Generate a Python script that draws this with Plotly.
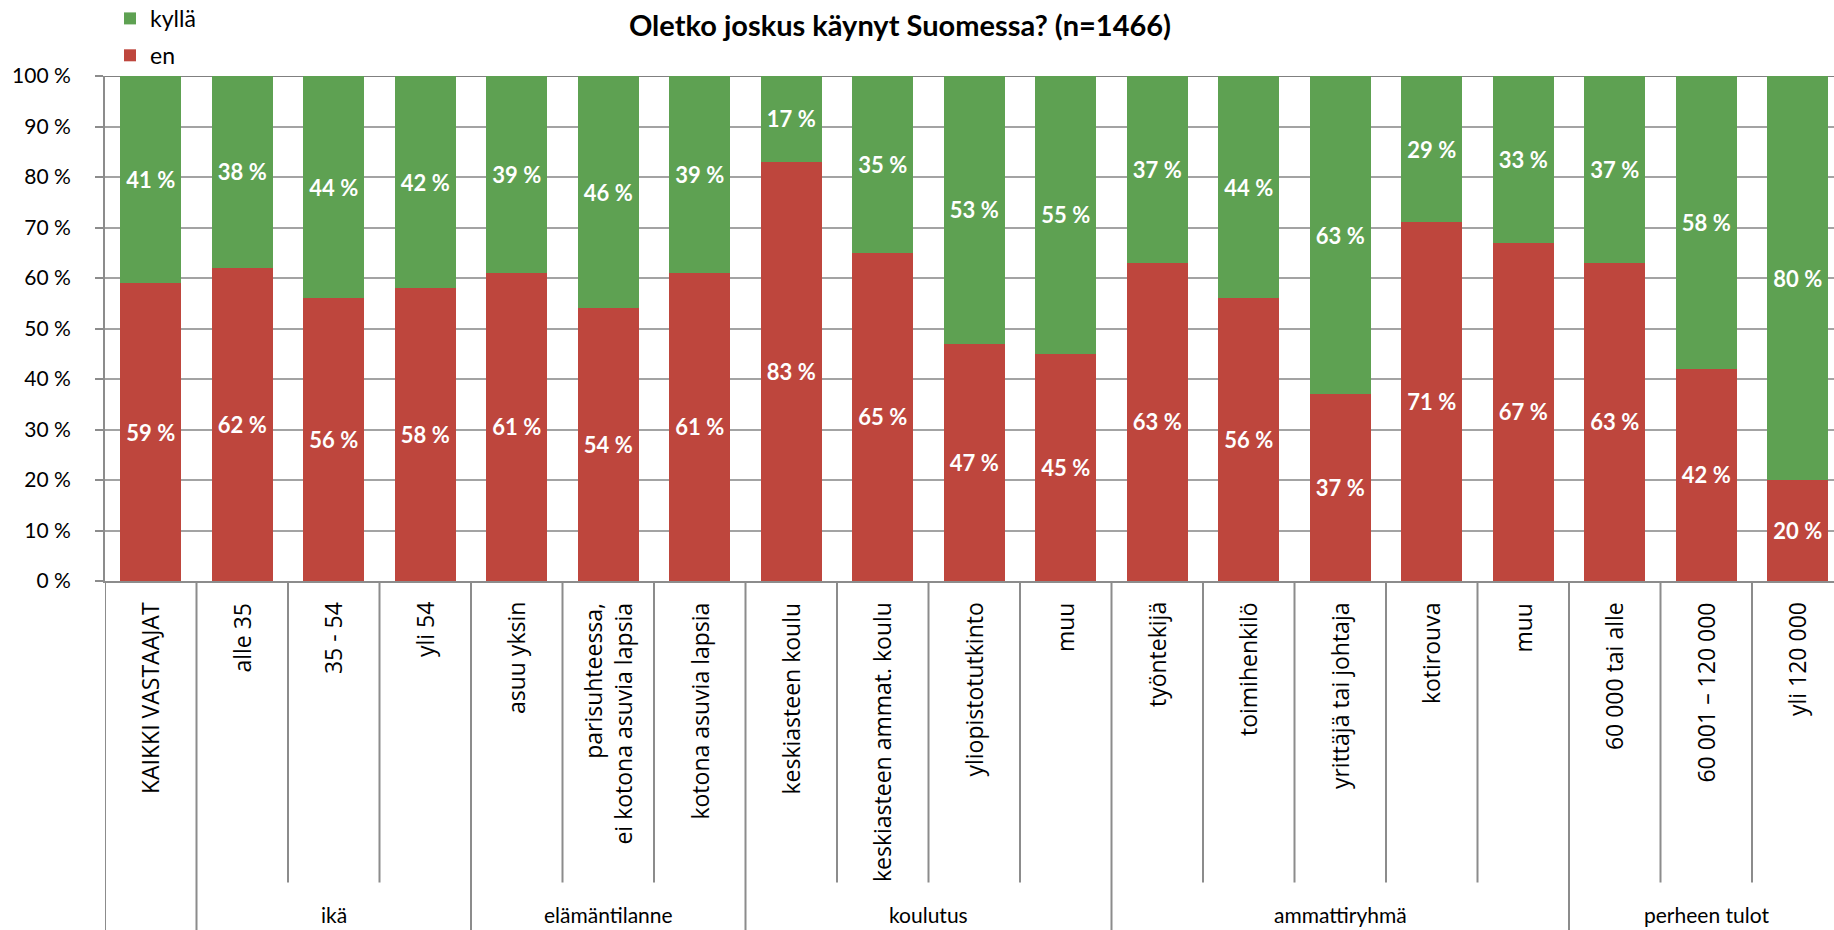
import plotly.graph_objects as go

# ---------------- data ----------------
categories = [
    "KAIKKI VASTAAJAT", "alle 35", "35 - 54", "yli 54",
    "asuu yksin", "parisuhteessa,<br>ei kotona asuvia lapsia", "kotona asuvia lapsia",
    "keskiasteen koulu", "keskiasteen ammat. koulu", "yliopistotutkinto", "muu",
    "työntekijä", "toimihenkilö", "yrittäjä tai johtaja", "kotirouva", "muu",
    "60 000 tai alle", "60 001 – 120 000", "yli 120 000",
]
groups = ["", "ikä", "elämäntilanne", "koulutus", "ammattiryhmä", "perheen tulot"]
group_sizes = [1, 3, 3, 4, 5, 3]
en = [59, 62, 56, 58, 61, 54, 61, 83, 65, 47, 45, 63, 56, 37, 71, 67, 63, 42, 20]
kylla = [41, 38, 44, 42, 39, 46, 39, 17, 35, 53, 55, 37, 44, 63, 29, 33, 37, 58, 80]
y_ticks = list(range(0, 101, 10))
y_tick_text = [f"{v} %" for v in y_ticks]
title_text = "Oletko joskus käynyt Suomessa? (n=1466)"

# ---------------- layout geometry (pixels) ----------------
W, H = 1834, 930
L, R, T, B = 105, 1834, 76, 580.7
CAT_W = 91.5
x_lo = -0.5
x_hi = x_lo + (R - L) / CAT_W


def py(ypix):
    return (B - ypix) / (B - T)


def px(xpix):
    return (xpix - L) / (R - L)


RED = "#BE463D"
GREEN = "#5EA152"
GRID = "#A3A3A3"
CALIBRI = "Lato"
ROT = "Open Sans"

idx = list(range(len(categories)))

fig = go.Figure()
for name, vals, col, grp, rank in (("en", en, RED, "en", 2), ("kyllä", kylla, GREEN, "kylla", 1)):
    fig.add_trace(go.Bar(
        x=idx, y=vals, name=name, marker=dict(color=col, line=dict(width=0)), width=0.67,
        text=[f"{v} %" for v in vals], texttemplate="%{text}",
        textposition="inside", insidetextanchor="middle", textangle=0,
        textfont=dict(family=CALIBRI, size=22, color="white", weight="bold"),
        hoverinfo="skip", legendgroup=grp, legendrank=rank,
    ))

shapes = []
bounds = [0]
for s in group_sizes:
    bounds.append(bounds[-1] + s)
for k in range(len(categories) + 1):
    full = k in bounds
    shapes.append(dict(
        type="line", xref="x", yref="paper", x0=k - 0.5, x1=k - 0.5,
        y0=0, y1=py(930 if full else 882),
        line=dict(color="#8C8C8C", width=2), layer="above",
    ))
shapes.append(dict(type="line", xref="paper", yref="y", x0=0, x1=1, y0=100, y1=100,
                   line=dict(color="#808080", width=2), layer="below"))

annotations = []
for i, c in enumerate(categories):
    annotations.append(dict(
        x=i, xref="x", y=py(600), yref="paper", text=c, showarrow=False,
        textangle=-90, xanchor="center", yanchor="top", align="right",
        font=dict(family=ROT, size=23, color="black"),
    ))
start = 0
for g, s in zip(groups, group_sizes):
    if g:
        annotations.append(dict(
            x=start + (s - 1) / 2, xref="x", y=py(914), yref="paper", text=g,
            showarrow=False, xanchor="center", yanchor="middle",
            font=dict(family=CALIBRI, size=21, color="black"),
        ))
    start += s

fig.update_layout(
    width=W, height=H,
    margin=dict(l=L, r=W - R, t=T, b=H - B, pad=0, autoexpand=False),
    paper_bgcolor="white", plot_bgcolor="white",
    barmode="stack", bargap=0.33,
    title=dict(text=title_text, x=900 / W, xref="container", xanchor="center",
               y=1 - 26 / H, yref="container", yanchor="middle",
               font=dict(family=CALIBRI, size=29, color="black", weight="bold")),
    legend=dict(xref="paper", yref="paper", x=px(110), y=py(-3),
                xanchor="left", yanchor="top", traceorder="grouped",
                tracegroupgap=4, font=dict(family=CALIBRI, size=23, color="black"),
                bgcolor="rgba(0,0,0,0)", itemclick=False),
    uniformtext=dict(mode="show", minsize=22),
    xaxis=dict(range=[x_lo, x_hi], showticklabels=False, showgrid=False, zeroline=False,
               showline=True, linecolor="#8C8C8C", linewidth=2, ticks="", fixedrange=True,
               automargin=False),
    yaxis=dict(range=[0, 100], tickvals=y_ticks, ticktext=y_tick_text, showgrid=True,
               gridcolor=GRID, gridwidth=2, zeroline=False, showline=True,
               linecolor="#8C8C8C", linewidth=2, ticks="outside", ticklen=8,
               tickwidth=2, tickcolor="#8C8C8C", ticklabelstandoff=20,
               tickfont=dict(family=CALIBRI, size=21, color="black"), fixedrange=True,
               automargin=False),
    shapes=shapes, annotations=annotations, showlegend=True,
)

fig.write_html("out.html", config={"displayModeBar": False},
               post_script="document.body.style.margin='0px';")
